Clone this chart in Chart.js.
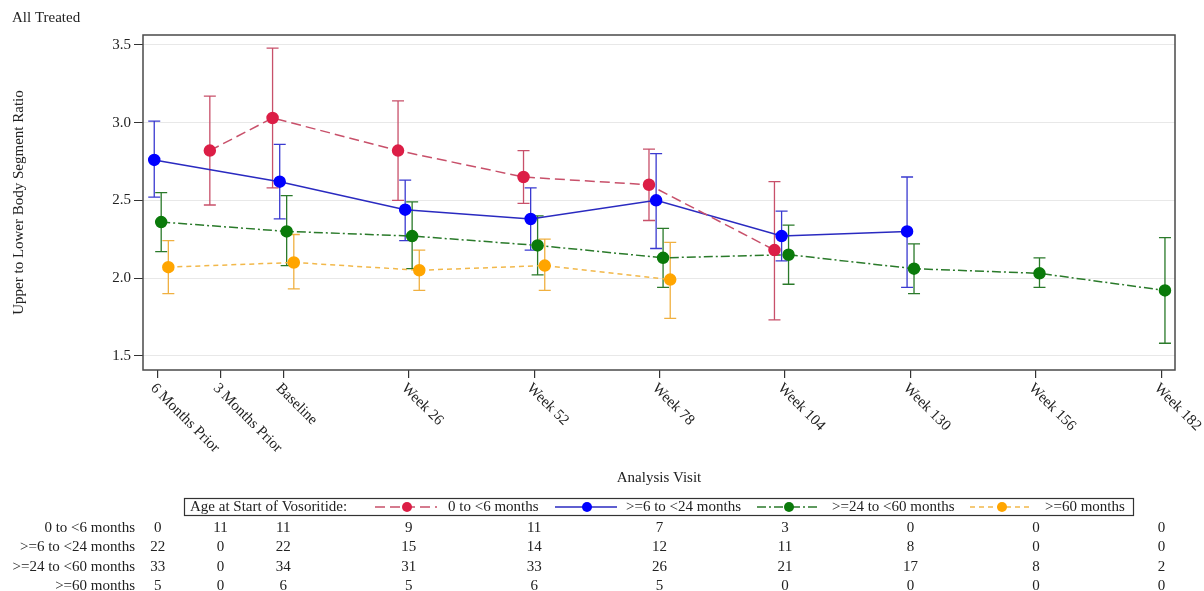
<!DOCTYPE html>
<html>
<head>
<meta charset="utf-8">
<script src="https://cdn.jsdelivr.net/npm/chart.js@4.4.0/dist/chart.umd.min.js"></script>
<style>
  body { margin: 0; background: #fff; }
  #wrap { width: 1204px; height: 591px; }
</style>
</head>
<body>
<div id="wrap"><canvas id="myChart"></canvas></div>
<script>
// visits on the x axis (weeks from baseline)
const visits = ['6 Months Prior', '3 Months Prior', 'Baseline', 'Week 26', 'Week 52', 'Week 78', 'Week 104', 'Week 130', 'Week 156', 'Week 182'];
const visitWeeks = [-26, -13, 0, 26, 52, 78, 104, 130, 156, 182];
const yTicks = [1.5, 2.0, 2.5, 3.0, 3.5];

const groups = ['0 to <6 months', '>=6 to <24 months', '>=24 to <60 months', '>=60 months'];

// mean and 95% CI per visit (null = no data)
const mean0 = [null, 2.82, 3.03, 2.82, 2.65, 2.60, 2.18, null, null, null];
const low0  = [null, 2.47, 2.58, 2.50, 2.48, 2.37, 1.73, null, null, null];
const high0 = [null, 3.17, 3.48, 3.14, 2.82, 2.83, 2.62, null, null, null];

const mean1 = [2.76, null, 2.62, 2.44, 2.38, 2.50, 2.27, 2.30, null, null];
const low1  = [2.52, null, 2.38, 2.24, 2.18, 2.19, 2.11, 1.94, null, null];
const high1 = [3.01, null, 2.86, 2.63, 2.58, 2.80, 2.43, 2.65, null, null];

const mean2 = [2.36, null, 2.30, 2.27, 2.21, 2.13, 2.15, 2.06, 2.03, 1.92];
const low2  = [2.17, null, 2.08, 2.06, 2.02, 1.94, 1.96, 1.90, 1.94, 1.58];
const high2 = [2.55, null, 2.53, 2.49, 2.40, 2.32, 2.34, 2.22, 2.13, 2.26];

const mean3 = [2.07, null, 2.10, 2.05, 2.08, 1.99, null, null, null, null];
const low3  = [1.90, null, 1.93, 1.92, 1.92, 1.74, null, null, null, null];
const high3 = [2.24, null, 2.28, 2.18, 2.25, 2.23, null, null, null, null];

// number of subjects per visit
const count0 = [0, 11, 11, 9, 11, 7, 3, 0, 0, 0];
const count1 = [22, 0, 22, 15, 14, 12, 11, 8, 0, 0];
const count2 = [33, 0, 34, 31, 33, 26, 21, 17, 8, 2];
const count3 = [5, 0, 6, 5, 6, 5, 0, 0, 0, 0];

const FONT = '"Liberation Serif", "Times New Roman", serif';

// small horizontal shift so the groups don't overlap
const groupShift = [-2.2, -0.72, 0.72, 2.2];

function points(means, lows, highs, g) {
  const out = [];
  means.forEach((m, i) => {
    if (m === null) return;
    out.push({ x: visitWeeks[i] + groupShift[g], y: m, lo: lows[i], hi: highs[i] });
  });
  return out;
}

const styles = [
  { marker: '#dc1e46', line: '#c8506a', err: '#c8506a', dash: [10, 5] },
  { marker: '#0000ff', line: '#2a2ac0', err: '#3a3ad0', dash: [] },
  { marker: '#0a7a0a', line: '#2a7a2a', err: '#2a7a2a', dash: [9, 3, 2, 3] },
  { marker: '#ffa500', line: '#f2b84a', err: '#f0b040', dash: [5, 4] }
];

// legend entry positions (sample line start, label start)
const legendSampleX = [375, 555, 757, 970];
const legendTextX = [448, 626, 832, 1045];

const series = [
  points(mean0, low0, high0, 0),
  points(mean1, low1, high1, 1),
  points(mean2, low2, high2, 2),
  points(mean3, low3, high3, 3)
];
const counts = [count0, count1, count2, count3];

const extras = {
  id: 'extras',
  beforeDatasetsDraw(chart) {
    const { ctx, scales: { x, y } } = chart;
    chart.data.datasets.forEach((ds, g) => {
      ctx.save();
      ctx.strokeStyle = styles[g].err;
      ctx.lineWidth = 1.3;
      ds.data.forEach(p => {
        const px = x.getPixelForValue(p.x);
        const y1 = y.getPixelForValue(p.lo);
        const y2 = y.getPixelForValue(p.hi);
        ctx.beginPath();
        ctx.moveTo(px, y1); ctx.lineTo(px, y2);
        ctx.moveTo(px - 6, y1); ctx.lineTo(px + 6, y1);
        ctx.moveTo(px - 6, y2); ctx.lineTo(px + 6, y2);
        ctx.stroke();
      });
      ctx.restore();
    });
  },
  afterDraw(chart) {
    const { ctx, chartArea: { left, top, width, height }, scales: { x } } = chart;
    ctx.save();

    // frame
    ctx.strokeStyle = '#4a4a4a';
    ctx.lineWidth = 1.5;
    ctx.strokeRect(left, top, width, height);

    ctx.fillStyle = '#222';
    ctx.font = '15px ' + FONT;

    // title
    ctx.textAlign = 'left';
    ctx.textBaseline = 'middle';
    ctx.fillText('All Treated', 12, 18);

    // y title
    ctx.save();
    ctx.translate(19, top + height / 2);
    ctx.rotate(-Math.PI / 2);
    ctx.textAlign = 'center';
    ctx.fillText('Upper to Lower Body Segment Ratio', 0, 0);
    ctx.restore();

    // rotated visit labels
    visits.forEach((v, i) => {
      const px = x.getPixelForValue(visitWeeks[i]);
      ctx.save();
      ctx.translate(px - 5, 386);
      ctx.rotate(Math.PI / 4);
      ctx.textAlign = 'left';
      ctx.fillText(v, 0, 0);
      ctx.restore();
    });

    // x title
    ctx.textAlign = 'center';
    ctx.fillText('Analysis Visit', left + width / 2, 478);

    // legend
    ctx.strokeStyle = '#333';
    ctx.lineWidth = 1.2;
    ctx.strokeRect(184.5, 498.5, 949, 17);
    ctx.textAlign = 'left';
    const ly = 507;
    ctx.fillText('Age at Start of Vosoritide:', 190, ly);
    groups.forEach((gname, g) => {
      const st = styles[g];
      const lx = legendSampleX[g];
      ctx.save();
      ctx.strokeStyle = st.line;
      ctx.lineWidth = 1.5;
      ctx.setLineDash(st.dash);
      ctx.beginPath();
      ctx.moveTo(lx, ly); ctx.lineTo(lx + 62, ly);
      ctx.stroke();
      ctx.restore();
      ctx.beginPath();
      ctx.fillStyle = st.marker;
      ctx.arc(lx + 32, ly, 5, 0, Math.PI * 2);
      ctx.fill();
      ctx.fillStyle = '#222';
      ctx.fillText(gname, legendTextX[g], ly);
    });

    // count table
    const rowY = [528, 547.5, 567, 586.5];
    groups.forEach((gname, g) => {
      ctx.textAlign = 'right';
      ctx.fillText(gname, 135, rowY[g]);
      ctx.textAlign = 'center';
      counts[g].forEach((n, i) => {
        ctx.fillText(String(n), x.getPixelForValue(visitWeeks[i]), rowY[g]);
      });
    });

    ctx.restore();
  }
};

const ctx = document.getElementById('myChart');

new Chart(ctx, {
  type: 'line',
  data: {
    datasets: series.map((pts, g) => ({
      label: groups[g],
      data: pts,
      borderColor: styles[g].line,
      borderWidth: 1.5,
      borderDash: styles[g].dash,
      backgroundColor: styles[g].marker,
      pointBackgroundColor: styles[g].marker,
      pointBorderColor: styles[g].marker,
      pointRadius: 5.5,
      pointHoverRadius: 5.5,
      tension: 0
    }))
  },
  options: {
    responsive: true,
    maintainAspectRatio: false,
    animation: false,
    layout: { padding: { left: 0, right: 29, top: 35, bottom: 0 } },
    plugins: {
      legend: { display: false },
      tooltip: { enabled: false }
    },
    scales: {
      x: {
        type: 'linear',
        min: -29.05,
        max: 184.8,
        afterBuildTicks(scale) { scale.ticks = visitWeeks.map(v => ({ value: v })); },
        afterFit(scale) { scale.height = 221; },
        ticks: { display: false },
        border: { display: false },
        grid: { drawOnChartArea: false, tickLength: 8, tickColor: '#333', lineWidth: 1.2 }
      },
      y: {
        min: 1.408,
        max: 3.564,
        afterBuildTicks(scale) { scale.ticks = yTicks.map(v => ({ value: v })); },
        afterFit(scale) { scale.width = 143; },
        border: { display: false },
        grid: { color: '#e8e8e8', tickColor: '#333', tickLength: 9 },
        ticks: {
          color: '#222',
          padding: 3,
          font: { family: FONT, size: 15 },
          callback: v => v.toFixed(1)
        }
      }
    }
  },
  plugins: [extras]
});
</script>
</body>
</html>
